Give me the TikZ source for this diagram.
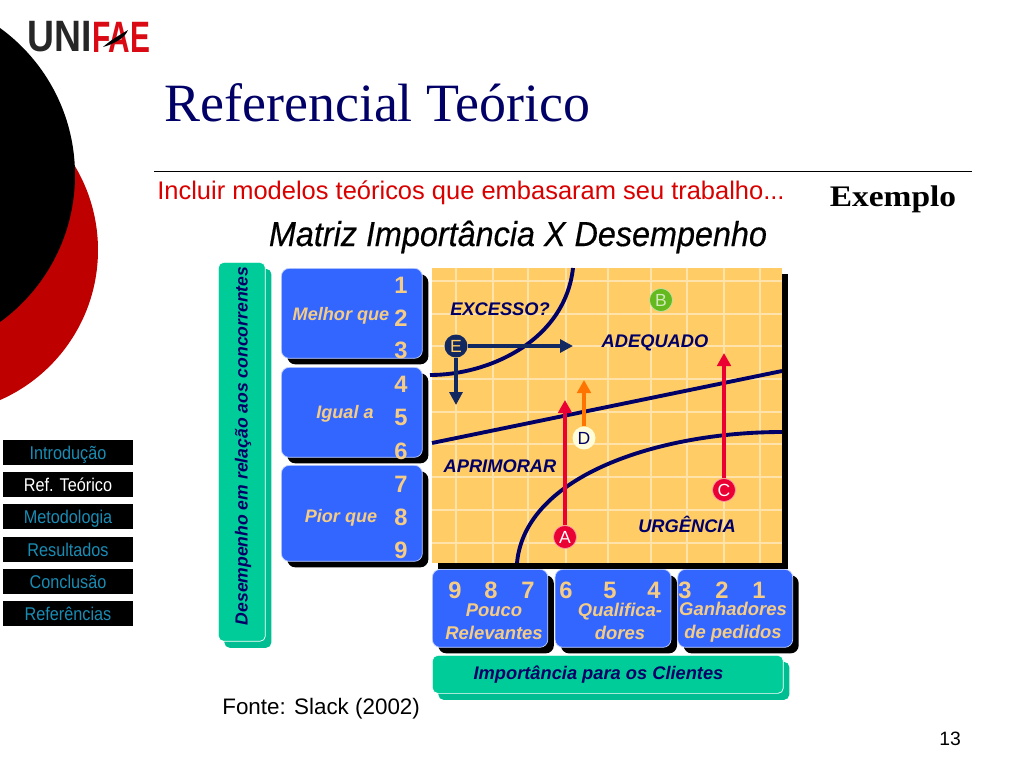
\documentclass[tikz,border=0pt]{standalone}
\usepackage{fontspec}
\usepackage{xcolor}
\usepackage{tikz}
\usetikzlibrary{arrows.meta,positioning,shadows}
\setmainfont{Liberation Sans}
\newfontfamily\titlefont{Liberation Serif}
\newfontfamily\examplefont[FakeStretch=1.12]{Liberation Serif}
\newfontfamily\logofont[FakeStretch=0.85]{Liberation Sans}
\newfontfamily\logoredfont[FakeStretch=0.68]{Liberation Sans}
\newfontfamily\headfont[FakeStretch=0.93,FakeBold=0.4]{Liberation Sans}
\newfontfamily\menufont[FakeStretch=0.88]{Liberation Sans}
\definecolor{navy}{RGB}{0,0,102}
\definecolor{arrownavy}{RGB}{18,40,96}
\definecolor{panel}{RGB}{51,102,255}
\definecolor{tan}{RGB}{255,204,102}
\definecolor{numtan}{RGB}{245,204,133}
\definecolor{mint}{RGB}{0,204,153}
\definecolor{mintdark}{RGB}{0,190,145}
\definecolor{alert}{RGB}{234,0,50}
\definecolor{lime}{RGB}{100,185,30}
\definecolor{logored}{RGB}{218,10,20}
\definecolor{menublue}{RGB}{25,140,180}
\tikzset{
  block/.style={draw=white!70!panel, thin, fill=panel, rounded corners=4.5pt,
    drop shadow={shadow xshift=0.12cm, shadow yshift=-0.12cm, fill=black, opacity=1}},
  band/.style={draw=white, thin, fill=mint, rounded corners=3pt,
    drop shadow={shadow xshift=0.12cm, shadow yshift=-0.13cm, fill=mintdark, opacity=1}},
  num/.style={text=numtan, font=\fontsize{13.5}{15}\bfseries\selectfont, inner sep=0pt},
  rowlbl/.style={text=numtan, font=\fontsize{10.3}{12}\bfseries\itshape\selectfont, inner sep=0pt},
  collbl/.style={text=numtan, font=\fontsize{10.5}{13}\bfseries\itshape\selectfont, align=center, inner sep=0pt},
  zone/.style={text=navy, font=\fontsize{10.4}{12}\bfseries\itshape\selectfont, inner sep=0pt},
  badge/.style={circle, minimum size=0.46cm, inner sep=0pt, font=\fontsize{10}{12}\selectfont},
  gridline/.style={draw=white!45!tan, line width=0.6pt},
  curveline/.style={draw=navy, line width=2.2pt},
  riser/.style={draw=alert, line width=1.8pt, -{Triangle[length=2.6mm, width=2.7mm]}},
  mover/.style={draw=arrownavy, line width=1.8pt, -{Triangle[length=2.6mm, width=2.6mm]}},
  menu/.style={fill=black, minimum width=2.6cm, minimum height=0.5cm, inner sep=0pt,
    text height=10.5pt, text depth=2pt, font=\menufont\fontsize{10.5}{11}\selectfont},
}

\begin{document}
\begin{tikzpicture}[x=0.02cm,y=-0.02cm]
  \useasboundingbox (0,0) rectangle (1024,768);
  % fundo
  \fill[red!75!black] (-65.8,250) circle (163.8);
  \fill[black] (-106.6,175) circle (181.6);
  \node[text=black!85, font=\logofont\bfseries\fontsize{25}{25}\selectfont, inner sep=0pt, anchor=east] (uni) at (92,37){UNI};
  \node[text=logored, font=\logoredfont\bfseries\fontsize{25}{25}\selectfont, inner sep=0pt, anchor=west] (fae) at (uni.east){FAE};
  \fill[black] (103,47) .. controls (112,39) and (120,35) .. (128,30) .. controls (125,38) and (114,44) .. (103,47);
  \node[text=navy, font=\titlefont\fontsize{30.7}{32}\selectfont, inner sep=0pt, anchor=west] (title) at (164,103){Referencial Teórico};
  \draw[black, line width=0.5pt] (154,171) -- (972,171);
  \node[text=red!85!black, font=\fontsize{14.5}{16}\selectfont, inner sep=0pt, anchor=west] (intro) at (157,193){Incluir modelos teóricos que embasaram seu trabalho...};
  \node[font=\examplefont\bfseries\fontsize{17}{20}\selectfont, inner sep=0pt] (exemplo) at (893,199){Exemplo};
  \node[text=black, font=\headfont\fontsize{19.8}{22}\selectfont, inner sep=0pt] (heading) at (518,237){\textit{Matriz Importância X Desempenho}};
  % menu
  \foreach \y/\txt/\col in {452.5/Introdução/menublue,484.5/Ref. Teórico/white,516.5/Metodologia/menublue,549.5/Resultados/menublue,581.5/Conclusão/menublue,613.5/Referências/menublue}
    \node[menu, text=\col] at (68,\y){\txt};
  % matriz
  \node[band, minimum width=0.94cm, minimum height=7.58cm, anchor=north west] (perf) at (218,262){};
  \node[rotate=90, text=navy, font=\fontsize{10}{12}\bfseries\itshape\selectfont, inner sep=0pt] (perflbl) at (243,446){Desempenho em relação aos concorrentes};
  \node[block, minimum width=2.82cm, minimum height=1.8cm, anchor=north west] (melhor) at (281,268){};
  \node[block, minimum width=2.82cm, minimum height=1.8cm, anchor=north west] (igual) at (281,367){};
  \node[block, minimum width=2.82cm, minimum height=1.92cm, anchor=north west] (pior) at (281,465){};
  \node[rowlbl] at (341,315.5){Melhor que};
  \node[rowlbl] at (345,414){Igual a};
  \node[rowlbl] at (341,518){Pior que};
  \foreach \n/\y in {1/285,2/318,3/350,4/384,5/417,6/451,7/484,8/517,9/550}
    \node[num] at (401,\y){\n};
  \fill[black] (438,274) rectangle (788,569);
  \fill[tan] (432,268) rectangle (782,563);
  \foreach \x in {456,493,528,566,608,651,687,724,760}
    \draw[gridline] (\x,268) -- (\x,563);
  \foreach \y in {281,314,346,379,412,444,477,510,543}
    \draw[gridline] (432,\y) -- (782,\y);
  \draw[curveline] (573,268) .. controls (565,340) and (490,375) .. (430,375);
  \draw[curveline] (432,443) -- (782,371);
  \draw[curveline] (517,563) .. controls (525,475) and (660,432) .. (782,432);
  \node[zone] at (500,309){EXCESSO?};
  \node[zone] at (655,342.5){ADEQUADO};
  \node[zone] at (500,466){APRIMORAR};
  \node[zone] at (687,524){URGÊNCIA};
  \node[badge, fill=alert, draw=white!60!alert, text=white] (a) at (565,537){A};
  \node[badge, fill=lime, draw=white!60!lime, text=white!70!lime] (b) at (661,300){B};
  \node[badge, fill=alert, draw=white!60!alert, text=white] (c) at (724,490){C};
  \node[badge, fill=yellow!15, text=navy] (d) at (584,438){D};
  \node[badge, fill=arrownavy, text=tan] (e) at (456,346){E};
  \coordinate (atip) at (565,400);
  \coordinate (ctip) at (724,353);
  \coordinate (dtip) at (584,380);
  \coordinate (eright) at (573,346);
  \coordinate (edown) at (456,405);
  \draw[riser] (a) -- (atip);
  \draw[riser] (c) -- (ctip);
  \draw[riser, draw=orange!90!red] (d) -- (dtip);
  \draw[mover] (e) -- (eright);
  \draw[mover] (e) -- (edown);
  % clientes
  \node[block, minimum width=2.31cm, minimum height=1.56cm, anchor=north west] (pouco) at (432,569){};
  \node[block, minimum width=2.32cm, minimum height=1.56cm, right=0.13cm of pouco] (quali) {};
  \node[block, minimum width=2.3cm, minimum height=1.56cm, right=0.12cm of quali] (ganha) {};
  \foreach \n/\x in {9/455,8/491,7/528,6/566,5/610,4/654,3/685,2/722,1/759}
    \node[num] at (\x,590){\n};
  \node[collbl] at (494,622){Pouco\\Relevantes};
  \node[collbl] at (620,621.5){Qualifica-\\dores};
  \node[collbl] at (733,622.5){Ganhadores\\de pedidos};
  \node[band, minimum width=7.02cm, minimum height=0.76cm, anchor=north west] (imp) at (432,655){};
  \node[text=navy, font=\fontsize{10.4}{12}\bfseries\itshape\selectfont, inner sep=0pt] (implbl) at (598.5,675){Importância para os Clientes};
  \node[font=\fontsize{12.75}{15}\selectfont, inner sep=0pt, anchor=west] (fonte) at (222,709){Fonte: Slack (2002)};
  \node[font=\fontsize{11}{13}\selectfont, inner sep=0pt] (page) at (950,739){13};
\end{tikzpicture}
\end{document}
